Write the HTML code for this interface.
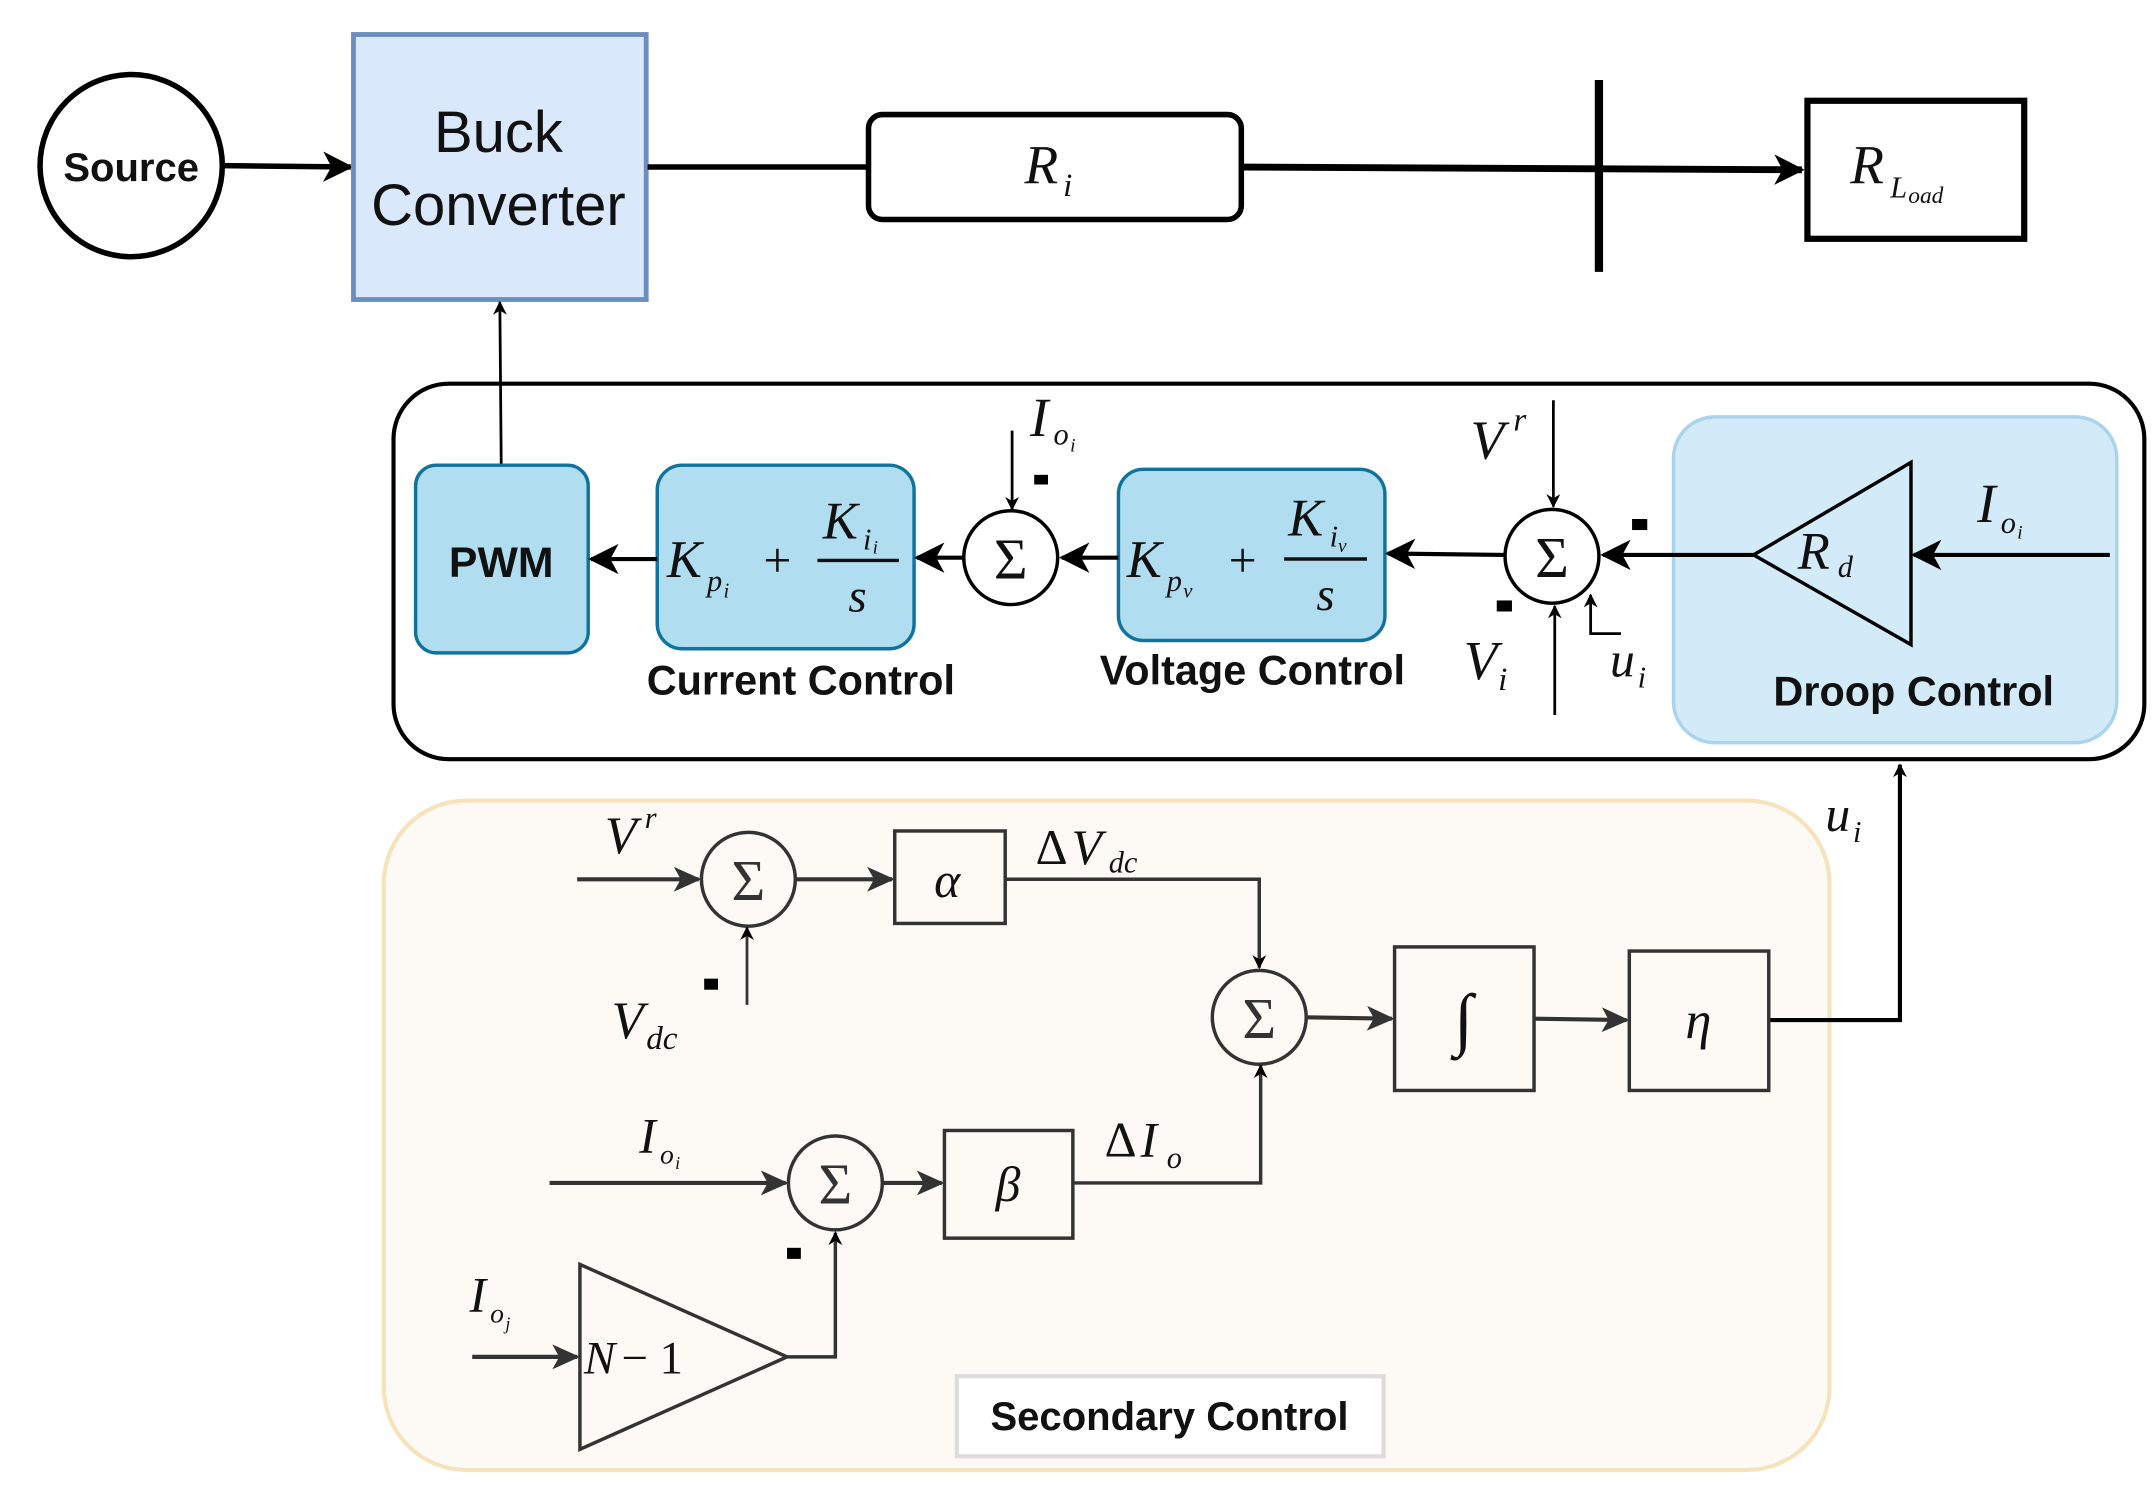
<!DOCTYPE html>
<html><head><meta charset="utf-8"><style>
html,body{margin:0;padding:0;background:#fff;}
svg{display:block;}
.m{font-family:"Liberation Serif",serif;font-style:italic;fill:#111;}
.b{font-family:"Liberation Sans",sans-serif;font-weight:bold;fill:#111;}
</style></head><body>
<svg width="2154" height="1488" viewBox="0 0 1560 1078" preserveAspectRatio="none" xmlns="http://www.w3.org/2000/svg">
<defs>
<marker id="a" markerWidth="10" markerHeight="10" refX="9" refY="5" orient="auto" markerUnits="userSpaceOnUse"><path d="M0,0 L10,5 L0,10 L3,5 z" fill="#000"/></marker>
<marker id="A" markerWidth="22" markerHeight="22" refX="20" refY="11" orient="auto" markerUnits="userSpaceOnUse"><path d="M0,0 L22,11 L0,22 L6,11 z" fill="#000"/></marker>
<marker id="g" markerWidth="20" markerHeight="18" refX="18" refY="9" orient="auto" markerUnits="userSpaceOnUse"><path d="M0,0 L20,9 L0,18 L5,9 z" fill="#333"/></marker>
</defs>
<!-- top row -->
<circle cx="95" cy="120" r="66" fill="#fff" stroke="#000" stroke-width="4"/>
<text x="95" y="131" text-anchor="middle" class="b" font-size="29">Source</text>
<line x1="162" y1="120" x2="254" y2="121" stroke="#000" stroke-width="4" marker-end="url(#A)"/>
<rect x="256" y="25" width="212" height="192" fill="#dae8fc" stroke="#6c8ebf" stroke-width="3.5"/>
<text x="361" y="110" text-anchor="middle" font-family="Liberation Sans,sans-serif" font-size="42" fill="#111">Buck</text>
<text x="361" y="163" text-anchor="middle" font-family="Liberation Sans,sans-serif" font-size="42" fill="#111">Converter</text>
<line x1="469" y1="121" x2="628" y2="121" stroke="#000" stroke-width="4"/>
<rect x="629" y="83" width="270" height="76" rx="10" fill="#fff" stroke="#000" stroke-width="4"/>
<text x="742" y="133" class="m" font-size="40">R</text><text x="770" y="142" class="m" font-size="24">i</text>
<line x1="900" y1="121" x2="1305" y2="123" stroke="#000" stroke-width="5" marker-end="url(#A)"/>
<line x1="1158" y1="58" x2="1158" y2="197" stroke="#000" stroke-width="6"/>
<rect x="1309" y="73" width="157" height="100" fill="#fff" stroke="#000" stroke-width="4.5"/>
<text x="1340" y="133" class="m" font-size="40">R</text><text x="1369" y="143" class="m" font-size="22">L</text><text x="1382" y="147" class="m" font-size="17">oad</text>
<line x1="363" y1="336" x2="362" y2="219" stroke="#000" stroke-width="2" marker-end="url(#a)"/>
<!-- primary box -->
<rect x="285" y="278" width="1268" height="272" rx="40" fill="none" stroke="#000" stroke-width="3"/>
<rect x="1212" y="302" width="321" height="236" rx="30" fill="#d3ebf8" stroke="#a9d4ec" stroke-width="2.5"/>
<rect x="301" y="337" width="125" height="136" rx="15" fill="#b1ddf0" stroke="#10739e" stroke-width="2.5"/>
<text x="363" y="418" text-anchor="middle" class="b" font-size="31">PWM</text>
<rect x="476" y="337" width="186" height="133" rx="18" fill="#b1ddf0" stroke="#10739e" stroke-width="2.5"/>
<text x="483" y="418" class="m" font-size="38">K</text><text x="512" y="428" class="m" font-size="22">p</text><text x="524" y="433" class="m" font-size="15">i</text>
<text x="563" y="418" text-anchor="middle" font-family="Liberation Serif,serif" font-size="36" fill="#111">+</text>
<text x="596" y="390" class="m" font-size="38">K</text><text x="625" y="398" class="m" font-size="22">i</text><text x="632" y="401" class="m" font-size="14">i</text>
<line x1="592" y1="406" x2="651" y2="406" stroke="#111" stroke-width="2.5"/>
<text x="621" y="443" text-anchor="middle" class="m" font-size="34">s</text>
<rect x="810" y="340" width="193" height="124" rx="18" fill="#b1ddf0" stroke="#10739e" stroke-width="2.5"/>
<text x="816" y="418" class="m" font-size="38">K</text><text x="845" y="428" class="m" font-size="22">p</text><text x="857" y="433" class="m" font-size="15">v</text>
<text x="900" y="418" text-anchor="middle" font-family="Liberation Serif,serif" font-size="36" fill="#111">+</text>
<text x="933" y="388" class="m" font-size="38">K</text><text x="963" y="396" class="m" font-size="22">i</text><text x="969" y="400" class="m" font-size="14">v</text>
<line x1="930" y1="405" x2="990" y2="405" stroke="#111" stroke-width="2.5"/>
<text x="960" y="442" text-anchor="middle" class="m" font-size="34">s</text>
<circle cx="732" cy="404" r="34" fill="#fff" stroke="#000" stroke-width="2.5"/>
<text x="732" y="419" text-anchor="middle" font-family="Liberation Serif,serif" font-size="42" fill="#111">Σ</text>
<circle cx="1124" cy="403" r="34" fill="#fff" stroke="#000" stroke-width="2.5"/>
<text x="1124" y="418" text-anchor="middle" font-family="Liberation Serif,serif" font-size="42" fill="#111">Σ</text>
<polygon points="1270,402 1384,335 1384,467" fill="none" stroke="#000" stroke-width="2.5"/>
<text x="1302" y="412" class="m" font-size="38">R</text><text x="1331" y="418" class="m" font-size="22">d</text>
<line x1="1528" y1="402" x2="1386" y2="402" stroke="#000" stroke-width="3" marker-end="url(#A)"/>
<text x="1432" y="378" class="m" font-size="40">I</text><text x="1449" y="386" class="m" font-size="22">o</text><text x="1461" y="390" class="m" font-size="14">i</text>
<line x1="1270" y1="402" x2="1161" y2="402" stroke="#000" stroke-width="3" marker-end="url(#A)"/>
<line x1="1090" y1="402" x2="1005" y2="401" stroke="#000" stroke-width="3" marker-end="url(#A)"/>
<line x1="810" y1="404" x2="769" y2="404" stroke="#000" stroke-width="3" marker-end="url(#A)"/>
<line x1="698" y1="404" x2="664" y2="404" stroke="#000" stroke-width="3" marker-end="url(#A)"/>
<line x1="476" y1="405" x2="428" y2="405" stroke="#000" stroke-width="3" marker-end="url(#A)"/>
<line x1="1125" y1="290" x2="1125" y2="367" stroke="#000" stroke-width="2" marker-end="url(#a)"/>
<text x="1065" y="332" class="m" font-size="40">V</text><text x="1096" y="312" class="m" font-size="24">r</text>
<line x1="1126" y1="518" x2="1126" y2="439" stroke="#000" stroke-width="2" marker-end="url(#a)"/>
<text x="1060" y="492" class="m" font-size="40">V</text><text x="1085" y="500" class="m" font-size="24">i</text>
<polyline points="1174,459 1152,459 1152,431" fill="none" stroke="#000" stroke-width="2" marker-end="url(#a)"/>
<text x="1166" y="490" class="m" font-size="36">u</text><text x="1186" y="498" class="m" font-size="22">i</text>
<line x1="733" y1="312" x2="733" y2="369" stroke="#000" stroke-width="2" marker-end="url(#a)"/>
<text x="746" y="316" class="m" font-size="40">I</text><text x="763" y="322" class="m" font-size="22">o</text><text x="775" y="327" class="m" font-size="14">i</text>
<rect x="749" y="344" width="10" height="7" fill="#000"/>
<rect x="1182" y="376" width="11" height="8" fill="#000"/>
<rect x="1084" y="435" width="11" height="8" fill="#000"/>
<text x="580" y="503" text-anchor="middle" class="b" font-size="30">Current Control</text>
<text x="907" y="496" text-anchor="middle" class="b" font-size="30">Voltage Control</text>
<text x="1386" y="511" text-anchor="middle" class="b" font-size="30">Droop Control</text>
<!-- secondary -->
<rect x="278" y="580" width="1047" height="485" rx="60" fill="#fdf9f4" stroke="#f5e3bc" stroke-width="3"/>
<polyline points="1282,739 1376,739 1376,554" fill="none" stroke="#000" stroke-width="3" marker-end="url(#a)"/>
<text x="1322" y="602" class="m" font-size="36">u</text><text x="1342" y="610" class="m" font-size="22">i</text>
<g stroke="#333" fill="none" stroke-width="2.5">
<circle cx="542" cy="637" r="34"/>
<circle cx="912" cy="737" r="34"/>
<circle cx="605" cy="857" r="34"/>
<rect x="648" y="602" width="80" height="67"/>
<rect x="1010" y="686" width="101" height="104"/>
<rect x="1180" y="689" width="101" height="101"/>
<rect x="684" y="819" width="93" height="78"/>
<polygon points="420,916 420,1050 570,983"/>
</g>
<g font-family="Liberation Serif,serif" font-size="42" fill="#333" text-anchor="middle">
<text x="542" y="652">Σ</text><text x="912" y="752">Σ</text><text x="605" y="872">Σ</text>
</g>
<line x1="418" y1="637" x2="506" y2="637" stroke="#333" stroke-width="3" marker-end="url(#g)"/>
<line x1="541" y1="728" x2="541" y2="672" stroke="#333" stroke-width="2" marker-end="url(#a)"/>
<line x1="576" y1="637" x2="646" y2="637" stroke="#333" stroke-width="3" marker-end="url(#g)"/>
<polyline points="728,637 912,637 912,701" fill="none" stroke="#333" stroke-width="2.5" marker-end="url(#a)"/>
<line x1="946" y1="737" x2="1008" y2="738" stroke="#333" stroke-width="3" marker-end="url(#g)"/>
<line x1="1111" y1="738" x2="1178" y2="739" stroke="#333" stroke-width="3" marker-end="url(#g)"/>
<line x1="398" y1="857" x2="569" y2="857" stroke="#333" stroke-width="3" marker-end="url(#g)"/>
<line x1="639" y1="857" x2="682" y2="857" stroke="#333" stroke-width="3" marker-end="url(#g)"/>
<polyline points="777,857 913,857 913,772" fill="none" stroke="#333" stroke-width="2.5" marker-end="url(#a)"/>
<line x1="342" y1="983" x2="418" y2="983" stroke="#333" stroke-width="3" marker-end="url(#g)"/>
<polyline points="570,983 605,983 605,893" fill="none" stroke="#333" stroke-width="2.5" marker-end="url(#a)"/>
<rect x="510" y="709" width="10" height="8" fill="#000"/>
<rect x="570" y="904" width="10" height="8" fill="#000"/>
<g class="m" fill="#333">
<text x="438" y="618" font-size="38">V</text><text x="467" y="600" font-size="22">r</text>
<text x="443" y="752" font-size="38">V</text><text x="468" y="760" font-size="24">dc</text>
<text x="686" y="650" font-size="36" text-anchor="middle">α</text>
<text x="750" y="626" font-size="36" font-style="normal">Δ</text><text x="776" y="626" font-size="36">V</text><text x="803" y="632" font-size="22">dc</text>
<text x="1060" y="755" font-size="50" text-anchor="middle">∫</text>
<text x="1230" y="752" font-size="38" text-anchor="middle">η</text>
<text x="730" y="870" font-size="36" text-anchor="middle">β</text>
<text x="800" y="838" font-size="36" font-style="normal">Δ</text><text x="826" y="838" font-size="36">I</text><text x="845" y="846" font-size="22">o</text>
<text x="463" y="835" font-size="36">I</text><text x="478" y="843" font-size="20">o</text><text x="489" y="847" font-size="13">i</text>
<text x="340" y="950" font-size="36">I</text><text x="355" y="958" font-size="20">o</text><text x="366" y="963" font-size="13">j</text>
<text x="423" y="995" font-size="34">N</text><text x="450" y="995" font-size="34" font-style="normal">− 1</text>
</g>
<rect x="693" y="997" width="309" height="58" fill="#fff" stroke="#ddd" stroke-width="3"/>
<text x="847" y="1036" text-anchor="middle" class="b" font-size="29">Secondary Control</text>
</svg>
</body></html>
